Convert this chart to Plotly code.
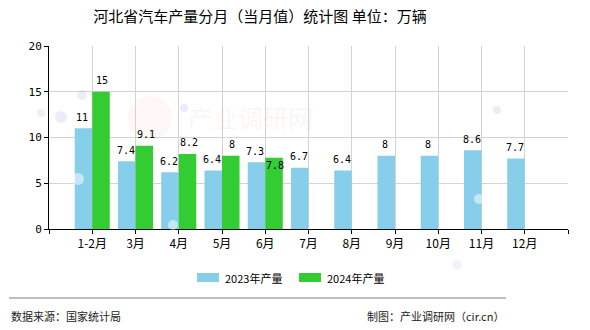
import plotly.graph_objects as go

# ---- data ----
months = ["1-2月", "3月", "4月", "5月", "6月", "7月", "8月", "9月", "10月", "11月", "12月"]
output_2023 = [11, 7.4, 6.2, 6.4, 7.3, 6.7, 6.4, 8, 8, 8.6, 7.7]
output_2024 = [15, 9.1, 8.2, 8, 7.8]
series_names = ["2023年产量", "2024年产量"]
y_ticks = [0, 5, 10, 15, 20]

# ---- style ----
W, H = 590, 330
L, R, T, B = 49, 568, 46, 229          # plot area in pixels
C2023 = "#87CEEB"
C2024 = "#33CC33"
CJK = "Noto Sans CJK SC"
MONO = "DejaVu Sans Mono"

def px_x(px):
    return (px - L) / (R - L)

def px_y(py):
    return (B - py) / (B - T)

xs_2023 = list(range(1, len(output_2023) + 1))
xs_2024 = list(range(1, len(output_2024) + 1))

fig = go.Figure()
fig.add_bar(x=xs_2023, y=output_2023, name=series_names[0],
            marker=dict(color=C2023, line=dict(width=0)), showlegend=False)
fig.add_bar(x=xs_2024, y=output_2024, name=series_names[1],
            marker=dict(color=C2024, line=dict(width=0)), showlegend=False)

# value labels above each bar (the June 2024 label sits just inside its bar)
annotations = []
label_dy = {(1, 4): -8}
for s, (xs, ys, dx) in enumerate([(xs_2023, output_2023, -10), (xs_2024, output_2024, 10)]):
    for i, (x, v) in enumerate(zip(xs, ys)):
        annotations.append(dict(
            x=x, y=v, xref="x", yref="y", text=f"{v:g}", showarrow=False,
            xshift=dx, yshift=label_dy.get((s, i), 11), yanchor="middle",
            borderpad=0,
            font=dict(family=MONO, size=10, color="#000")))

# watermark
annotations.append(dict(x=px_x(250), y=px_y(117), xref="paper", yref="paper",
                        text="产业调研网", showarrow=False, borderpad=0,
                        font=dict(family=CJK, size=25, color="rgba(210,90,80,0.07)")))

# legend
legend_items = [(197, C2023, series_names[0]), (299, C2024, series_names[1])]
shapes = []
for x0, col, name in legend_items:
    shapes.append(dict(type="rect", xref="paper", yref="paper",
                       x0=px_x(x0), x1=px_x(x0 + 22), y0=px_y(282), y1=px_y(273),
                       fillcolor=col, line=dict(width=0)))
    annotations.append(dict(x=px_x(x0 + 26), y=px_y(277.5), xref="paper", yref="paper",
                            text=name, showarrow=False, xanchor="left", yanchor="middle",
                            font=dict(family=CJK, size=11, color="#000")))

# footer
shapes.append(dict(type="line", xref="paper", yref="paper",
                   x0=px_x(9), x1=px_x(506), y0=px_y(298), y1=px_y(298),
                   line=dict(color="#808080", width=1)))
annotations.append(dict(x=px_x(9), y=px_y(316), xref="paper", yref="paper",
                        text="数据来源：国家统计局", showarrow=False,
                        xanchor="left", yanchor="middle",
                        font=dict(family=CJK, size=11, color="#222")))
annotations.append(dict(x=px_x(506), y=px_y(316), xref="paper", yref="paper",
                        text="制图：产业调研网（cir.cn）", showarrow=False,
                        xanchor="right", yanchor="middle",
                        font=dict(family=CJK, size=11, color="#222")))

# logo circle behind the watermark
shapes.append(dict(type="circle", xref="paper", yref="paper", layer="below",
                   x0=px_x(128), x1=px_x(172), y0=px_y(140), y1=px_y(96),
                   fillcolor="rgba(235,120,90,0.06)", line=dict(width=0)))

# faint decorative bubbles
bubbles = [(41, 113, 4, "rgba(150,160,220,0.18)"), (61, 117, 6, "rgba(150,160,220,0.2)"),
           (82, 95, 5, "rgba(150,160,220,0.18)"), (184, 108, 4, "rgba(150,160,220,0.2)"),
           (78, 179, 6, "rgba(255,255,255,0.5)"), (173, 225, 5, "rgba(255,255,255,0.5)"),
           (479, 199, 5, "rgba(255,255,255,0.5)"), (497, 110, 4, "rgba(150,160,220,0.2)"),
           (457, 265, 5, "rgba(150,160,220,0.12)")]
for bx, by, r, col in bubbles:
    shapes.append(dict(type="circle", xref="paper", yref="paper", layer="above",
                       x0=px_x(bx - r), x1=px_x(bx + r), y0=px_y(by + r), y1=px_y(by - r),
                       fillcolor=col, line=dict(width=0)))

fig.update_layout(
    width=W, height=H, autosize=False,
    margin=dict(l=L, r=W - R, t=T, b=H - B, pad=0),
    paper_bgcolor="white", plot_bgcolor="white",
    barmode="group", bargap=0.19, bargroupgap=0,
    title=dict(text="河北省汽车产量分月（当月值）统计图 单位：万辆",
               x=260 / W, xanchor="center", y=1 - 17 / H, yanchor="middle",
               font=dict(family=CJK, size=15, color="#000")),
    annotations=annotations, shapes=shapes,
    xaxis=dict(range=[0, len(months) + 1],
               tickvals=list(range(0, len(months) + 2)),
               ticktext=[""] + months + [""],
               showgrid=True, gridcolor="#d3d3d3", gridwidth=1,
               showline=True, linecolor="#000", linewidth=1,
               ticks="outside", ticklen=4, tickcolor="#000",
               zeroline=False,
               tickfont=dict(family=CJK, size=12, color="#000")),
    yaxis=dict(range=[0, 20], tickvals=y_ticks,
               showgrid=True, gridcolor="#d3d3d3", gridwidth=1,
               showline=True, linecolor="#000", linewidth=1,
               ticks="outside", ticklen=4, tickcolor="#000",
               zeroline=False,
               tickfont=dict(family=MONO, size=11, color="#000")),
)

fig.write_html("out.html")
